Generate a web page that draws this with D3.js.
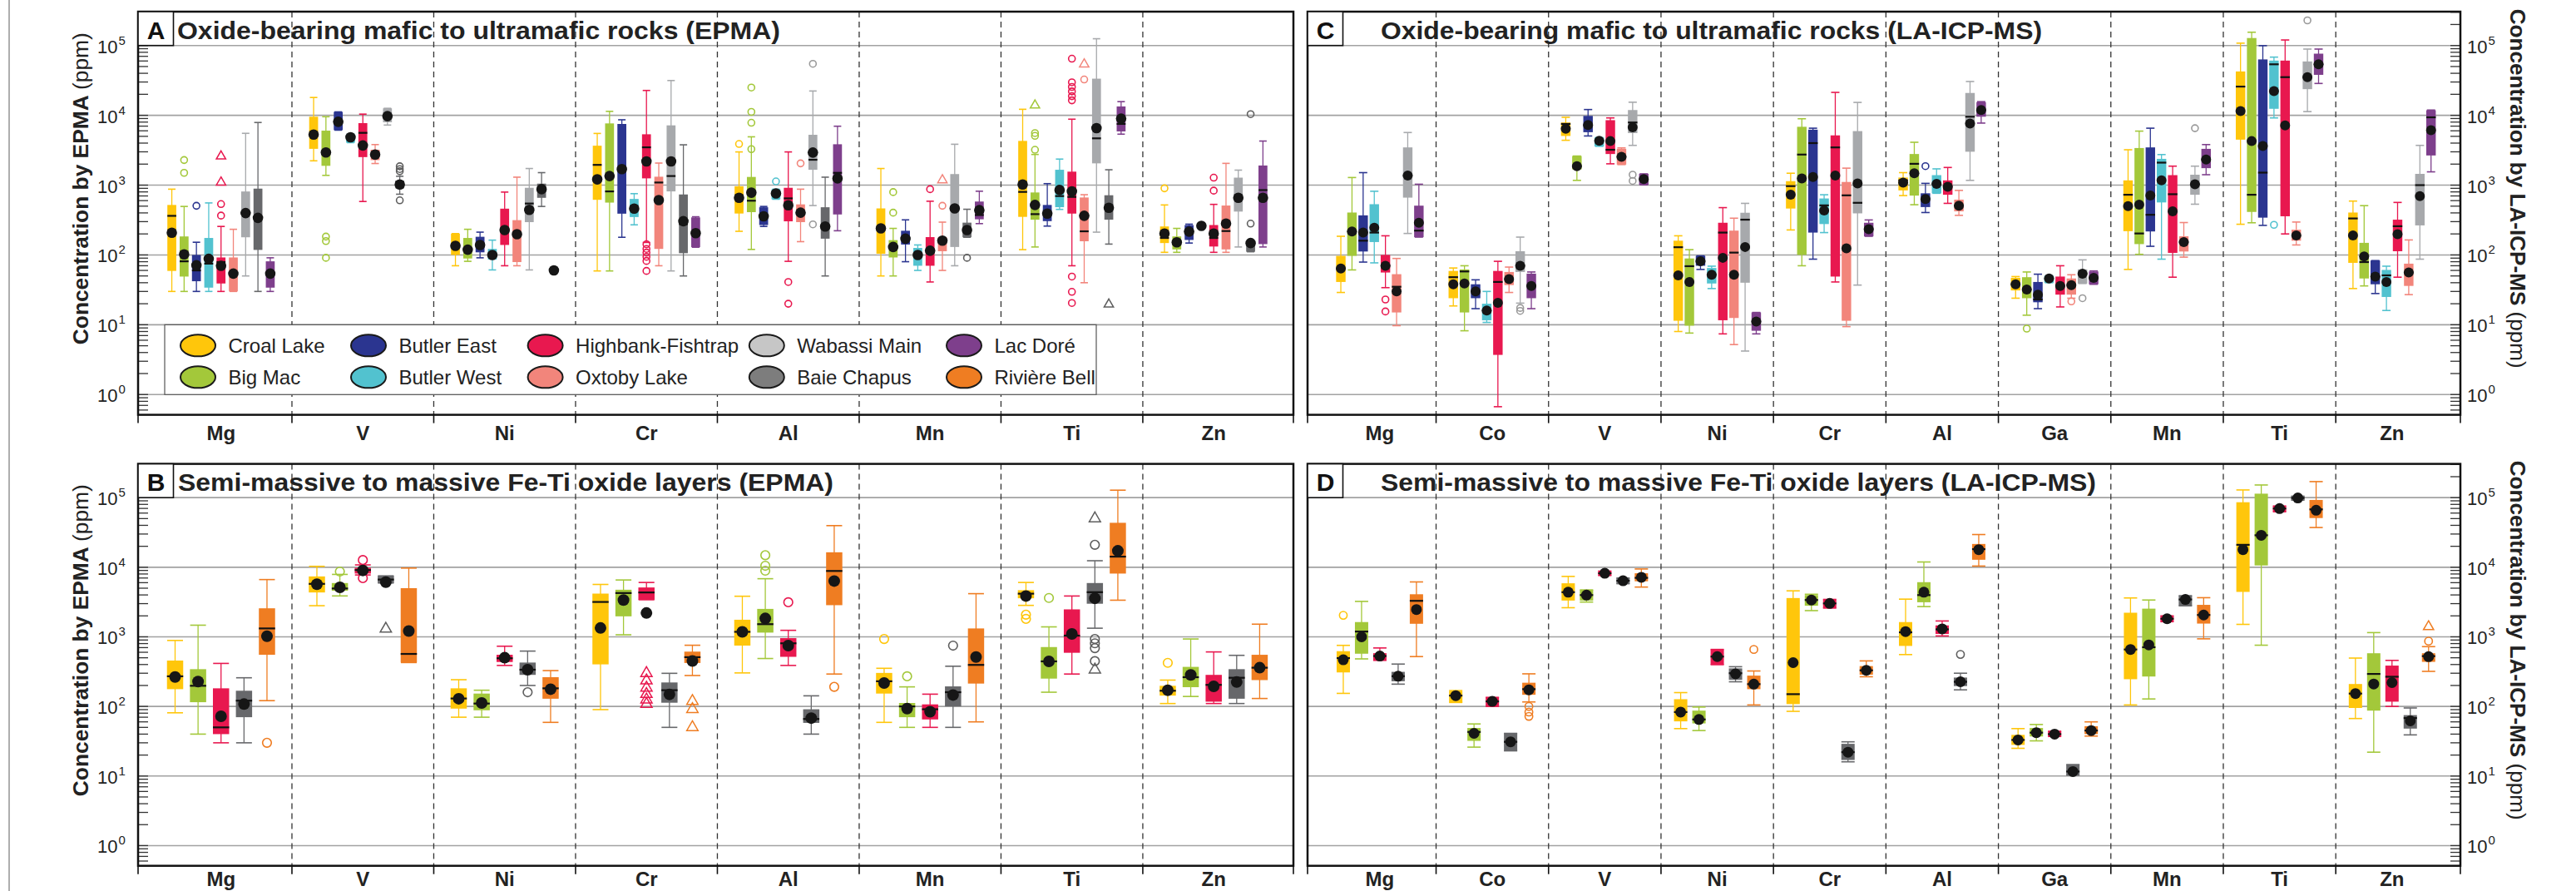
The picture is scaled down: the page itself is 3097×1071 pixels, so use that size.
<!DOCTYPE html>
<html>
<head>
<meta charset="utf-8">
<script src="https://cdn.jsdelivr.net/npm/d3@7"></script>
<style>
  body { margin: 0; background: #fff; }
  svg { display: block; font-family: "Liberation Sans", Arial, Helvetica, sans-serif; }
</style>
</head>
<body>
<svg id="chart" width="3097" height="1071"></svg>
<script>
// ---------- deposits ----------
const deposits = ["Croal Lake", "Big Mac", "Butler East", "Butler West", "Highbank-Fishtrap",
  "Oxtoby Lake", "Wabassi Main", "Baie Chapus", "Lac Doré", "Rivière Bell"];
const boxColors = ["#FFC60B", "#A3C83A", "#2B3590", "#52C2CF", "#E8184F",
  "#F2857B", "#A7A9AC", "#67686B", "#7E3F8C", "#EF7D22"];
const legendFills = ["#FFC60B", "#A3C83A", "#2B3590", "#52C2CF", "#E8184F",
  "#F2857B", "#C6C6C6", "#7D7D7D", "#7E3F8C", "#EF7D22"];
const outlierColors = ["#FFC60B", "#A3C83A", "#2B3590", "#52C2CF", "#E8184F",
  "#F2857B", "#9A9A9A", "#5E5E5E", "#7E3F8C", "#EF7D22"];

// ---------- categories ----------
const epmaElements = ["Mg", "V", "Ni", "Cr", "Al", "Mn", "Ti", "Zn"];
const laElements = ["Mg", "Co", "V", "Ni", "Cr", "Al", "Ga", "Mn", "Ti", "Zn"];
const depositsA = [0, 1, 2, 3, 4, 5, 6, 7, 8];
const depositsB = [0, 1, 4, 7, 9];
const depositsC = [0, 1, 2, 3, 4, 5, 6, 8];
const depositsD = [0, 1, 4, 7, 9];
const tickExponents = [0, 1, 2, 3, 4, 5];

// Row layout (ppm): [deposit, whiskerLow, Q1, median, Q3, whiskerHigh, mean, circleOutliers, triangleOutliers]
// A row with null box values carries only a mean.

// ---------- A: oxide-bearing mafic to ultramafic rocks, EPMA ----------
const A_Mg = [
  [0, 30, 59, 363, 520, 875, 208],
  [1, 30, 49, 81, 184, 495, 102, [1500, 2290]],
  [2, 30, 42, 60, 100, 152, 71, [506]],
  [3, 30, 34, 75, 175, 556, 88],
  [4, 30, 39, 79, 92, 256, 70, [366, 535], [1096, 2590]],
  [5, 30, 30, 55, 92, 233, 54],
  [6, 50, 179, 400, 811, 5520, 398],
  [7, 30, 118, 340, 891, 7890, 340],
  [8, 30, 34, 55, 81, 91, 54]
];
const A_V = [
  [0, 2230, 3310, 5300, 9550, 18000, 5310],
  [1, 1380, 1890, 2940, 6030, 9550, 2940, [91, 158, 183]],
  [2, 6130, 6130, 8090, 11200, 11200, 8090],
  [3, 4060, 4060, 4840, 5350, 5350, 4840],
  [4, 583, 2520, 5610, 7730, 10400, 3700],
  [5, 2040, 2280, 2740, 3220, 3810, 2740],
  [6, 7250, 7950, 9730, 12600, 12600, 9730],
  [7, 741, 900, 1020, 1150, 1340, 1020, [606, 1580, 1700, 1860]]
];
const A_Ni = [
  [0, 70, 100, 135, 202, 202, 135],
  [1, 81, 89, 120, 175, 233, 119],
  [2, 91, 109, 139, 182, 212, 139],
  [3, 61, 86, 100, 122, 163, 100],
  [4, 70, 139, 230, 460, 795, 227],
  [5, 70, 79, 200, 315, 1300, 198],
  [6, 61, 295, 545, 916, 1730, 443],
  [7, 495, 658, 875, 1050, 1510, 875],
  [8, null, null, null, null, null, 60]
];
const A_Cr = [
  [0, 59, 616, 1950, 3670, 5500, 1210],
  [1, 59, 562, 813, 7660, 11400, 1350],
  [2, 179, 390, 1700, 7520, 8630, 1700],
  [3, 270, 349, 460, 634, 755, 460],
  [4, 151, 1250, 3480, 5350, 22700, 2190, [59, 82, 94, 108, 122, 142]],
  [5, 70, 122, 1090, 1320, 2070, 611],
  [6, 59, 813, 1350, 7180, 31500, 2190],
  [7, 50, 106, 277, 735, 3780, 304],
  [8, 129, 129, 205, 345, 352, 205]
];
const A_Al = [
  [0, 218, 392, 658, 962, 2990, 658, [3890]],
  [1, 120, 410, 598, 1310, 4920, 780, [3280, 7820, 11200, 25000]],
  [2, 256, 268, 357, 482, 495, 357],
  [3, 628, 628, 759, 875, 875, 759, [1130]],
  [4, 81, 303, 646, 916, 2990, 515, [20, 41]],
  [5, 155, 295, 403, 530, 875, 403, [2050]],
  [6, 510, 1660, 2310, 5260, 22300, 2930, [274, 54700]],
  [7, 50, 171, 250, 482, 1300, 256],
  [8, 222, 380, 1500, 3850, 6980, 1250]
];
const A_Mn = [
  [0, 50, 104, 240, 464, 1730, 240],
  [1, 50, 92, 130, 163, 240, 130, [403, 795]],
  [2, 80, 141, 171, 222, 318, 171],
  [3, 60, 70, 100, 126, 139, 100],
  [4, 41, 70, 115, 180, 588, 115, [875]],
  [5, 60, 113, 160, 180, 295, 160, [506], [1180]],
  [6, 70, 130, 464, 1440, 3850, 464],
  [7, 179, 179, 227, 290, 451, 227, [91]],
  [8, 281, 324, 373, 582, 818, 438]
];
const A_Ti = [
  [0, 119, 351, 800, 4300, 12200, 1020],
  [1, 130, 320, 384, 785, 2750, 520, [3210, 5080, 5570], [13900]],
  [2, 259, 305, 391, 520, 1050, 391],
  [3, 449, 483, 697, 1660, 2360, 851],
  [4, 70, 391, 678, 1560, 8800, 814, [20.5, 29.6, 49, 16400, 18800, 22000, 25500, 29700, 64700]],
  [5, 40, 157, 218, 665, 729, 364, [32600], [53900]],
  [6, 212, 2050, 4680, 33500, 125000, 6560],
  [7, 143, 320, 474, 716, 1660, 474, [], [19.6]],
  [8, 5370, 5880, 7530, 13400, 15700, 8960]
];
const A_Zn = [
  [0, 109, 148, 175, 256, 520, 202, [900]],
  [1, 109, 120, 152, 184, 240, 152],
  [2, 148, 164, 216, 268, 276, 216],
  [3, null, null, null, null, null, 261],
  [4, 109, 132, 175, 268, 530, 202, [834, 1280]],
  [5, 109, 120, 220, 510, 2050, 281],
  [6, 130, 418, 650, 1280, 1640, 658],
  [7, 111, 111, 148, 152, 152, 148, [281, 10400]],
  [8, 130, 143, 849, 1910, 4280, 658]
];

// ---------- B: semi-massive to massive Fe-Ti oxide layers, EPMA ----------
const B_Mg = [
  [0, 81, 177, 271, 456, 887, 265],
  [1, 40, 115, 198, 343, 1470, 228],
  [4, 30, 40, 50, 182, 415, 72],
  [7, 30, 70, 121, 168, 258, 108],
  [9, 121, 552, 1320, 2570, 6650, 1020, [30]]
];
const B_V = [
  [0, 2800, 4340, 5770, 7380, 10300, 5700],
  [1, 3870, 4590, 4950, 5930, 7890, 5140, [8670]],
  [4, 7740, 8110, 9100, 9820, 10800, 9000, [6970, 12700]],
  [7, 5930, 5930, 6650, 7520, 7520, 6100, [], [1300]],
  [9, 427, 427, 568, 5000, 9720, 1210]
];
const B_Ni = [
  [0, 70, 93, 130, 182, 242, 129],
  [1, 70, 88, 110, 153, 171, 112],
  [4, 388, 435, 492, 552, 733, 501],
  [7, 200, 284, 337, 427, 624, 337, [160]],
  [9, 59, 129, 182, 263, 327, 177]
];
const B_Cr = [
  [0, 90, 402, 3170, 4180, 5660, 1340],
  [1, 1070, 1970, 4260, 4750, 6560, 3380],
  [4, 3410, 3410, 4340, 5120, 6040, 2200, [], [108, 125, 150, 185, 235, 300]],
  [7, 50, 113, 171, 221, 299, 149],
  [9, 278, 421, 510, 613, 757, 449, [], [50, 91, 119]]
];
const B_Al = [
  [0, 303, 748, 1180, 1760, 3830, 1180],
  [1, 488, 1150, 1520, 2520, 6840, 1840, [8920, 10500, 14900]],
  [4, 388, 516, 807, 958, 1240, 748, [3140]],
  [7, 40, 58, 66, 91, 142, 68],
  [9, 292, 2850, 8840, 16400, 39600, 6340, [191]]
];
const B_Mn = [
  [0, 59, 153, 230, 303, 353, 217, [931]],
  [1, 50, 70, 100, 112, 191, 93, [271]],
  [4, 50, 65, 91, 107, 150, 84],
  [7, 50, 100, 160, 194, 378, 146, [748]],
  [9, 60, 213, 395, 1320, 4170, 512]
];
const B_Ti = [
  [0, 2830, 3580, 4170, 4680, 6040, 3860, [1810, 2080]],
  [1, 160, 251, 444, 713, 1390, 444, [3620]],
  [4, 292, 590, 1040, 2480, 3860, 1100],
  [7, 1330, 2990, 4380, 5930, 12400, 3580, [448, 687, 807, 931, 21000], [337, 50200]],
  [9, 3360, 8110, 14200, 43500, 128000, 17200]
];
const B_Zn = [
  [0, 110, 143, 168, 198, 239, 171, [423]],
  [1, 139, 189, 263, 370, 931, 284],
  [4, 110, 117, 204, 284, 607, 194],
  [7, 110, 129, 258, 343, 542, 224],
  [9, 130, 239, 360, 552, 1520, 360]
];

// ---------- C: oxide-bearing mafic to ultramafic rocks, LA-ICP-MS ----------
const C_Mg = [
  [0, 29, 41, 64, 97, 185, 64],
  [1, 61, 97, 217, 405, 1285, 217],
  [2, 79, 112, 160, 369, 1510, 209],
  [3, 77, 153, 209, 533, 817, 245],
  [4, 34, 56, 70, 100, 188, 70, [15.5, 23]],
  [5, 9.7, 15, 35, 53, 89, 30],
  [6, 203, 662, 1370, 3470, 5670, 1370],
  [8, 180, 180, 223, 508, 1030, 289]
];
const C_Co = [
  [0, 18.6, 24, 48, 59, 65, 38],
  [1, 8.2, 15, 58, 62, 70, 39],
  [2, 17, 24, 30, 38, 44, 30],
  [3, 10.8, 11.6, 16, 20, 30, 16],
  [4, 0.67, 3.7, 41, 59, 81, 20.6],
  [5, 29, 37, 45, 57, 67, 45],
  [6, 20.4, 57, 70, 113, 180, 70, [15.8, 17.4]],
  [8, 17, 24, 36, 54, 57, 36]
];
const C_V = [
  [0, 4390, 5060, 7530, 7890, 9360, 6410],
  [1, 1170, 1680, 1870, 2610, 2610, 1870],
  [2, 5060, 5730, 7250, 9820, 12100, 7250],
  [3, 3600, 3600, 4310, 4800, 4800, 4310],
  [4, 2020, 2790, 3210, 8520, 9180, 4270],
  [5, 1970, 1970, 2540, 3310, 3410, 2540],
  [6, 3710, 5560, 7890, 11900, 15400, 6730, [1150, 1410]],
  [8, 1010, 1010, 1220, 1450, 1450, 1220]
];
const C_Ni = [
  [0, 8, 11.4, 129, 160, 188, 51],
  [1, 7.6, 9.7, 69, 89, 119, 41],
  [2, 62, 70, 81, 97, 97, 81],
  [3, 33, 39, 52, 65, 69, 52],
  [4, 7.4, 11.6, 209, 289, 476, 91],
  [5, 5.2, 12.5, 108, 223, 336, 52],
  [6, 4.2, 40, 320, 402, 548, 130],
  [8, 7.4, 8.2, 11.1, 15, 15, 11.1]
];
const C_Cr = [
  [0, 228, 462, 968, 1140, 1480, 728],
  [1, 70, 100, 2740, 6850, 8930, 1250],
  [2, 87, 209, 4000, 6230, 6540, 1310],
  [3, 209, 277, 513, 644, 728, 434],
  [4, 41, 49, 3470, 5160, 21300, 1370],
  [5, 9.4, 11.4, 714, 1110, 1750, 124],
  [6, 37, 394, 558, 5940, 15300, 1060],
  [8, 185, 185, 234, 289, 317, 234]
];
const C_Al = [
  [0, 708, 840, 1170, 1285, 1510, 1090],
  [1, 524, 708, 2020, 2790, 4110, 1480],
  [2, 405, 485, 632, 764, 1060, 632, [1870]],
  [3, 764, 764, 1045, 1390, 1710, 1045],
  [4, 548, 728, 949, 1170, 1790, 949],
  [5, 369, 421, 508, 620, 840, 508],
  [6, 1170, 3010, 9550, 20900, 30500, 7600],
  [8, 7740, 9550, 11900, 15400, 15700, 11900]
];
const C_Ga = [
  [0, 24, 31, 38, 47, 49, 38],
  [1, 13.7, 24, 32, 48, 57, 32, [8.8]],
  [2, 17, 21, 23, 41, 53, 27],
  [3, 40, 40, 46, 50, 50, 46],
  [4, 18, 27, 36, 49, 70, 36],
  [5, 24, 27, 37, 46, 52, 37, [21.6]],
  [6, 39, 39, 54, 62, 85, 54, [24]],
  [8, 38, 38, 47, 58, 59, 47]
];
const C_Mn = [
  [0, 62, 219, 728, 1170, 3210, 499],
  [1, 102, 143, 203, 3400, 5940, 524],
  [2, 133, 217, 376, 3470, 6540, 708],
  [3, 87, 565, 2100, 2380, 2740, 1170],
  [4, 48, 107, 741, 1390, 1870, 421],
  [5, 93, 112, 153, 185, 291, 153],
  [6, 533, 728, 1030, 1410, 1870, 1030, [6540]],
  [8, 1410, 1750, 2330, 3310, 3810, 2330]
];
const C_Ti = [
  [0, 275, 4480, 25800, 42500, 108000, 11500],
  [1, 289, 413, 728, 128000, 155000, 4270],
  [2, 265, 342, 1510, 63200, 99500, 3640],
  [3, 9180, 12400, 53800, 60800, 68200, 22300, [270]],
  [4, 200, 358, 35200, 60800, 120000, 7180],
  [5, 139, 160, 190, 230, 296, 190],
  [6, 11300, 23700, 35200, 59100, 88900, 35200, [229000]],
  [8, 28600, 38000, 53800, 76400, 88900, 53800]
];
const C_Zn = [
  [0, 33, 77, 333, 405, 591, 190],
  [1, 36, 46, 79, 149, 508, 95],
  [2, 28, 38, 49, 83, 83, 49],
  [3, 16, 25, 51, 61, 69, 41],
  [4, 48, 113, 258, 320, 565, 198],
  [5, 27, 36, 56, 75, 164, 56],
  [6, 87, 265, 1000, 1450, 3710, 695],
  [8, 1550, 2660, 9360, 11800, 11900, 6110]
];

// ---------- D: semi-massive to massive Fe-Ti oxide layers, LA-ICP-MS ----------
const D_Mg = [
  [0, 154, 308, 495, 622, 754, 468, [2040]],
  [1, 482, 572, 1190, 1630, 3230, 1000],
  [4, 459, 459, 530, 582, 692, 530],
  [7, 209, 230, 272, 314, 406, 272],
  [9, 520, 1540, 3290, 4090, 6150, 2470]
];
const D_Co = [
  [0, 114, 114, 143, 165, 169, 143],
  [1, 26, 32, 43, 49, 56, 41],
  [4, 100, 100, 118, 135, 135, 118],
  [7, 23, 23, 31, 41, 41, 31],
  [9, 116, 147, 177, 219, 294, 173, [72, 83, 100]]
];
const D_V = [
  [0, 2620, 3320, 4380, 5880, 7380, 4380],
  [1, 3160, 3320, 3980, 4720, 4720, 3980],
  [4, 7600, 7600, 8190, 8800, 8800, 8190],
  [7, 5800, 5800, 6400, 7000, 7000, 6400],
  [9, 5190, 6280, 7040, 8190, 9440, 7170]
];
const D_Ni = [
  [0, 48, 61, 83, 127, 158, 83],
  [1, 45, 57, 65, 87, 98, 65],
  [4, 398, 398, 520, 659, 659, 520],
  [7, 226, 241, 300, 352, 372, 294],
  [9, 105, 177, 209, 277, 323, 209, [659]]
];
const D_Cr = [
  [0, 85, 108, 150, 3610, 4580, 426],
  [1, 2380, 2800, 3380, 3980, 4090, 3380],
  [4, 2590, 2590, 3020, 3450, 3450, 3020],
  [7, 16, 17, 22, 29, 31, 22],
  [9, 267, 286, 330, 380, 451, 330]
];
const D_Al = [
  [0, 556, 740, 1160, 1630, 3480, 1190],
  [1, 2720, 3140, 3980, 6100, 11900, 4380],
  [4, 1030, 1100, 1280, 1460, 1690, 1300],
  [7, 173, 196, 226, 260, 300, 226, [559]],
  [9, 10400, 12800, 18200, 21600, 29500, 17900]
];
const D_Ga = [
  [0, 25, 28, 33, 39, 48, 33],
  [1, 32, 37, 42, 49, 55, 42],
  [4, 37, 37, 40, 44, 44, 40],
  [7, 10.3, 10.3, 11.6, 14.6, 14.6, 11.6],
  [9, 37.5, 40, 45, 52, 60, 45]
];
const D_Mn = [
  [0, 105, 246, 658, 2220, 3620, 658],
  [1, 128, 269, 709, 2540, 3380, 766],
  [4, 1650, 1650, 1820, 2000, 2000, 1820],
  [7, 2790, 2790, 3440, 3900, 3900, 3440],
  [9, 936, 1550, 2060, 2880, 3650, 2060]
];
const D_Ti = [
  [0, 1510, 4420, 21000, 85900, 129000, 17900],
  [1, 758, 10600, 28800, 114000, 152000, 28800],
  [4, 62700, 62700, 69700, 75800, 75800, 69700],
  [7, 92000, 92000, 99000, 105000, 105000, 99000],
  [9, 37200, 50900, 67800, 92700, 170000, 65900]
];
const D_Zn = [
  [0, 67, 95, 153, 210, 495, 153],
  [1, 22, 87, 293, 581, 1150, 210],
  [4, 100, 117, 267, 386, 459, 220],
  [7, 39, 48, 68, 75, 95, 62],
  [9, 319, 437, 528, 581, 723, 519, [867], [1400]]
];

// ---------- layout ----------
const svg = d3.select("#chart");
const H = +svg.attr("height");
const yDomain = [Math.pow(10, -0.29), Math.pow(10, 5.485)];

const panels = [
  { letter: "A", title: "Oxide-bearing mafic to ultramafic rocks (EPMA)", titleX: 213, titleLen: 725,
    x0: 166, x1: 1555, y0: 14, y1: 498.6, xDomain: [0.415, 8.562],
    elements: epmaElements, deposits: depositsA,
    data: [A_Mg, A_V, A_Ni, A_Cr, A_Al, A_Mn, A_Ti, A_Zn],
    spread: 0.781, boxW: 10.7, capW: 9, dotR: 6.3, outR: 4, triSize: 55, side: "left", legend: true },
  { letter: "B", title: "Semi-massive to massive Fe-Ti oxide layers (EPMA)", titleX: 214, titleLen: 788,
    x0: 166, x1: 1555, y0: 557.6, y1: 1040.7, xDomain: [0.415, 8.562],
    elements: epmaElements, deposits: depositsB,
    data: [B_Mg, B_V, B_Ni, B_Cr, B_Al, B_Mn, B_Ti, B_Zn],
    spread: 0.81, boxW: 19.5, capW: 19, dotR: 7, outR: 5.3, triSize: 80, side: "left" },
  { letter: "C", title: "Oxide-bearing mafic to ultramafic rocks (LA-ICP-MS)", titleX: 1660, titleLen: 795,
    x0: 1572, x1: 2958, y0: 14, y1: 498.6, xDomain: [0.357, 10.608],
    elements: laElements, deposits: depositsC,
    data: [C_Mg, C_Co, C_V, C_Ni, C_Cr, C_Al, C_Ga, C_Mn, C_Ti, C_Zn],
    spread: 0.793, boxW: 11.4, capW: 10, dotR: 6, outR: 4, triSize: 55, side: "right" },
  { letter: "D", title: "Semi-massive to massive Fe-Ti oxide layers (LA-ICP-MS)", titleX: 1660, titleLen: 860,
    x0: 1572, x1: 2958, y0: 557.6, y1: 1040.7, xDomain: [0.357, 10.608],
    elements: laElements, deposits: depositsD,
    data: [D_Mg, D_Co, D_V, D_Ni, D_Cr, D_Al, D_Ga, D_Mn, D_Ti, D_Zn],
    spread: 0.813, boxW: 16, capW: 16, dotR: 6.5, outR: 4.6, triSize: 65, side: "right" }
];

// thin rule along the left edge of the figure
svg.append("line").attr("x1", 11).attr("x2", 11).attr("y1", 0).attr("y2", H)
  .attr("stroke", "#777").attr("stroke-width", 1.2);

// minor tick values 1..9 x 10^k
const minorTicks = [];
for (let k = -1; k <= 5; k++) for (let m = 1; m <= 9; m++) {
  const v = m * Math.pow(10, k);
  if (v >= yDomain[0] && v <= yDomain[1]) minorTicks.push(v);
}

function drawPanel(p) {
  const g = svg.append("g");
  const x = d3.scaleLinear().domain(p.xDomain).range([p.x0, p.x1]);
  const y = d3.scaleLog().domain(yDomain).range([p.y1, p.y0]);
  const slot = d3.scaleBand().domain(p.deposits).range([-p.spread / 2, p.spread / 2]);
  const nCat = p.elements.length;

  // decade grid lines
  g.append("g").selectAll("line").data(tickExponents).join("line")
    .attr("x1", p.x0).attr("x2", p.x1)
    .attr("y1", d => y(Math.pow(10, d))).attr("y2", d => y(Math.pow(10, d)))
    .attr("stroke", "#a2a2a2").attr("stroke-width", 1.6);

  // dashed category dividers
  const dividers = d3.range(1, nCat).map(i => i + 0.5);
  g.append("g").selectAll("line").data(dividers).join("line")
    .attr("x1", d => x(d)).attr("x2", d => x(d))
    .attr("y1", p.y0).attr("y2", p.y1)
    .attr("stroke", "#333").attr("stroke-width", 1.3).attr("stroke-dasharray", "7,5");

  // legend (panel A only)
  if (p.legend) {
    const lg = g.append("g");
    const ly0 = y(10), ly1 = y(1);
    lg.append("rect").attr("x", 198).attr("y", ly0).attr("width", 1318 - 198).attr("height", ly1 - ly0)
      .attr("fill", "#fff").attr("stroke", "#555").attr("stroke-width", 1.2);
    const colX = [238, 443, 655.6, 921.8, 1159];
    const rowY = [ly0 + 25, ly0 + 63];
    deposits.forEach((name, i) => {
      const cx = colX[Math.floor(i / 2)], cy = rowY[i % 2];
      lg.append("ellipse").attr("cx", cx).attr("cy", cy).attr("rx", 21).attr("ry", 13)
        .attr("fill", legendFills[i]).attr("stroke", "#1a1a1a").attr("stroke-width", 2);
      lg.append("text").attr("x", cx + 36.5).attr("y", cy + 8.5)
        .attr("font-size", 24).attr("fill", "#222").text(name);
    });
  }

  // box plots
  const bg = g.append("g");
  p.elements.forEach((el, ci) => {
    const rows = p.data[ci];
    rows.forEach(row => {
      const [dep, lo, q1, med, q3, hi, mean, circ = [], tri = []] = row;
      const cx = x(ci + 1 + slot(dep) + slot.bandwidth() / 2);
      const col = boxColors[dep];
      const oc = outlierColors[dep];
      if (lo != null) {
        bg.append("line").attr("x1", cx).attr("x2", cx).attr("y1", y(lo)).attr("y2", y(hi))
          .attr("stroke", col).attr("stroke-width", 1.3);
        [lo, hi].forEach(v => {
          bg.append("line").attr("x1", cx - p.capW / 2).attr("x2", cx + p.capW / 2)
            .attr("y1", y(v)).attr("y2", y(v)).attr("stroke", col).attr("stroke-width", 1.6);
        });
        const top = y(q3), bot = y(q1);
        const h = Math.max(bot - top, 3);
        bg.append("rect").attr("x", cx - p.boxW / 2).attr("y", (top + bot) / 2 - h / 2)
          .attr("width", p.boxW).attr("height", h).attr("fill", col);
        bg.append("line").attr("x1", cx - p.boxW / 2).attr("x2", cx + p.boxW / 2)
          .attr("y1", y(med)).attr("y2", y(med)).attr("stroke", "#111").attr("stroke-width", 2.2);
      }
      circ.forEach(v => {
        bg.append("circle").attr("cx", cx).attr("cy", y(v)).attr("r", p.outR)
          .attr("fill", "none").attr("stroke", oc).attr("stroke-width", 1.6);
      });
      tri.forEach(v => {
        bg.append("path").attr("d", d3.symbol(d3.symbolTriangle, p.triSize)())
          .attr("transform", `translate(${cx},${y(v)})`)
          .attr("fill", "none").attr("stroke", oc).attr("stroke-width", 1.5);
      });
      bg.append("circle").attr("cx", cx).attr("cy", y(mean)).attr("r", p.dotR).attr("fill", "#161616");
    });
  });

  // axis ticks (inside the frame) and decade labels
  const ag = g.append("g");
  const tx0 = p.side === "left" ? p.x0 : p.x1;
  const dir = p.side === "left" ? 1 : -1;
  ag.selectAll("line").data(minorTicks).join("line")
    .attr("x1", tx0).attr("x2", tx0 + dir * 12)
    .attr("y1", d => y(d)).attr("y2", d => y(d))
    .attr("stroke", "#333").attr("stroke-width", 1.3);
  const labX = p.side === "left" ? 117 : 2966;
  tickExponents.forEach(e => {
    const t = ag.append("text").attr("x", labX).attr("y", y(Math.pow(10, e)) + 9)
      .attr("font-size", 22).attr("fill", "#222");
    t.append("tspan").text("10");
    t.append("tspan").attr("dy", -10).attr("dx", 1).attr("font-size", 15).text(e);
  });

  // frame
  g.append("rect").attr("x", p.x0).attr("y", p.y0).attr("width", p.x1 - p.x0).attr("height", p.y1 - p.y0)
    .attr("fill", "none").attr("stroke", "#111").attr("stroke-width", 2.5);

  // category ticks below the frame
  const xt = [p.xDomain[0], ...dividers, p.xDomain[1]];
  g.append("g").selectAll("line").data(xt).join("line")
    .attr("x1", d => x(d)).attr("x2", d => x(d))
    .attr("y1", p.y1).attr("y2", p.y1 + 10)
    .attr("stroke", "#111").attr("stroke-width", 1.6);

  // category labels (kept inside the page at the bottom row)
  const labelY = Math.min(p.y1 + 30, H - 6);
  g.append("g").selectAll("text").data(p.elements).join("text")
    .attr("x", (d, i) => x(i + 1)).attr("y", labelY)
    .attr("text-anchor", "middle").attr("font-size", 24).attr("font-weight", "bold").attr("fill", "#222")
    .text(d => d);

  // panel letter box and title
  const ty = y(1e5);
  g.append("rect").attr("x", p.x0).attr("y", p.y0).attr("width", 42.5).attr("height", ty - p.y0)
    .attr("fill", "#fff").attr("stroke", "#111").attr("stroke-width", 1.6);
  g.append("text").attr("x", p.x0 + 21.5).attr("y", ty - 8).attr("text-anchor", "middle")
    .attr("font-size", 30).attr("font-weight", "bold").attr("fill", "#111").text(p.letter);
  g.append("text").attr("x", p.titleX).attr("y", ty - 8)
    .attr("font-size", 29).attr("font-weight", "bold").attr("fill", "#222")
    .attr("textLength", p.titleLen).attr("lengthAdjust", "spacingAndGlyphs")
    .text(p.title);

  // axis title
  const cy = (y(Math.pow(10, 5.2)) + y(Math.pow(10, 0.7))) / 2;
  if (p.side === "left") {
    const t = g.append("text").attr("transform", `translate(106,${cy}) rotate(-90)`)
      .attr("text-anchor", "middle").attr("font-size", 25).attr("fill", "#222")
      .attr("textLength", 375).attr("lengthAdjust", "spacingAndGlyphs");
    t.append("tspan").attr("font-weight", "bold").text("Concentration by EPMA ");
    t.append("tspan").text("(ppm)");
  } else {
    const t = g.append("text").attr("transform", `translate(3018,${cy}) rotate(90)`)
      .attr("text-anchor", "middle").attr("font-size", 25).attr("fill", "#222")
      .attr("textLength", 432).attr("lengthAdjust", "spacingAndGlyphs");
    t.append("tspan").attr("font-weight", "bold").text("Concentration by LA-ICP-MS ");
    t.append("tspan").text("(ppm)");
  }
}

panels.forEach(drawPanel);
</script>
</body>
</html>
